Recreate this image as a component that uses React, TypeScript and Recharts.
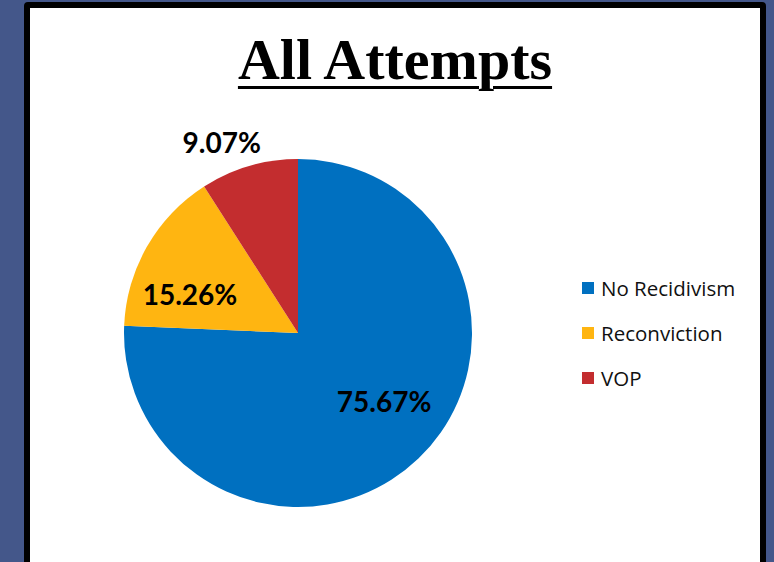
import React from "react"
import { PieChart, Pie, Cell, Legend } from "recharts"

const categories = ["No Recidivism", "Reconviction", "VOP"]
const shares = [75.67, 15.26, 9.07]
const colors = ["#0070C0", "#FFB511", "#C32D2F"]

// label placement per slice: radius as a fraction of outer radius, angle nudge in degrees
const labelRadius = [0.63, 0.66, 1.18]
const labelNudge = [8, 10, 5.5]

const data = categories.map((name, i) => ({ name, value: shares[i] }))

const RADIAN = Math.PI / 180

function renderLabel(props: any) {
    const { cx, cy, midAngle, outerRadius, index, value } = props
    const r = outerRadius * labelRadius[index]
    const a = (midAngle + labelNudge[index]) * RADIAN
    const x = cx + r * Math.cos(a)
    const y = cy - r * Math.sin(a)
    return (
        <text
            x={x}
            y={y}
            textAnchor="middle"
            dominantBaseline="central"
            fill="#000"
            fontFamily="Lato, 'Noto Sans', sans-serif"
            fontWeight={700}
            fontSize={28}
        >
            {value.toFixed(2)}%
        </text>
    )
}

function LegendBox() {
    return (
        <div style={{ fontFamily: "'Open Sans', Lato, sans-serif", fontSize: 20.5, color: "#111" }}>
            {data.map((d, i) => (
                <div key={d.name} style={{ display: "flex", alignItems: "center", height: 45 }}>
                    <span style={{ width: 12, height: 12, background: colors[i], marginRight: 7 }} />
                    {d.name}
                </div>
            ))}
        </div>
    )
}

export default function App() {
    return (
        <div style={{ position: "fixed", left: 0, top: 0, width: 774, height: 562, background: "#44578A", overflow: "hidden" }}>
            <div
                style={{
                    position: "absolute",
                    left: 24,
                    top: 2,
                    width: 730,
                    height: 600,
                    background: "#fff",
                    border: "6px solid #000",
                    borderRadius: 4,
                }}
            />
            <div
                style={{
                    position: "absolute",
                    left: 0,
                    width: 790,
                    top: 25,
                    textAlign: "center",
                    fontFamily: "'Liberation Serif', 'DejaVu Serif', serif",
                    fontWeight: 700,
                    fontSize: 58,
                    textDecoration: "underline",
                    textDecorationThickness: 3,
                    textUnderlineOffset: 7,
                    lineHeight: "70px",
                }}
            >
                All Attempts
            </div>
            <div style={{ position: "absolute", left: 0, top: 0 }}>
                <PieChart width={774} height={562} margin={{ top: 0, right: 0, bottom: 0, left: 0 }}>
                    <Pie
                        data={data}
                        dataKey="value"
                        nameKey="name"
                        cx={298}
                        cy={333}
                        outerRadius={174}
                        startAngle={90}
                        endAngle={-270}
                        stroke="none"
                        label={renderLabel}
                        labelLine={false}
                        isAnimationActive={false}
                    >
                        {data.map((d, i) => (
                            <Cell key={`cell-${i}`} fill={colors[i]} />
                        ))}
                    </Pie>
                    <Legend
                        content={<LegendBox />}
                        wrapperStyle={{ left: 582, top: 265, width: 180 }}
                    />
                </PieChart>
            </div>
        </div>
    )
}
